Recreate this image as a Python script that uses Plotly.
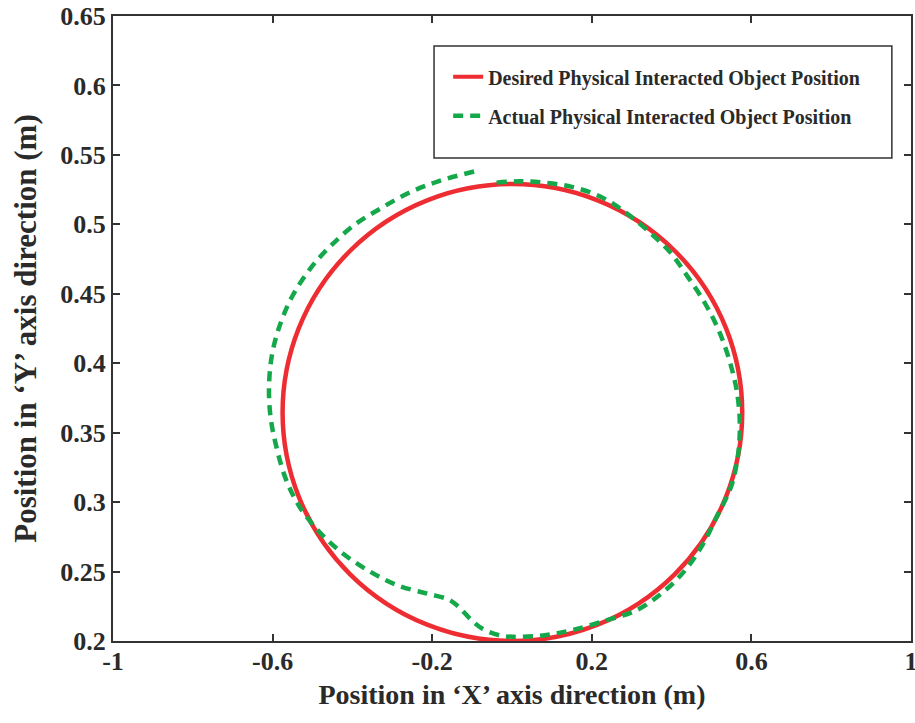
import plotly.graph_objects as go

# Desired trajectory: circle bounds (data units)
desired_x_bounds = [-0.575, 0.577]
desired_y_bounds = [0.200, 0.529]

# Actual trajectory
actual_x = [-0.095, -0.185, -0.256, -0.326, -0.393, -0.456, -0.506, -0.551, -0.581, -0.601,
            -0.609, -0.605, -0.589, -0.566, -0.531, -0.481, -0.424, -0.356, -0.286, -0.211,
            -0.160, -0.135, -0.105, -0.075, -0.030, 0.003, 0.078, 0.153, 0.238, 0.311,
            0.378, 0.434, 0.479, 0.514, 0.549, 0.566, 0.571, 0.564, 0.546, 0.519,
            0.484, 0.441, 0.396, 0.338, 0.278, 0.221, 0.150, 0.080, 0.020, -0.040]
actual_y = [0.538, 0.531, 0.523, 0.512, 0.500, 0.484, 0.468, 0.448, 0.428, 0.407,
            0.383, 0.361, 0.338, 0.316, 0.296, 0.278, 0.263, 0.250, 0.240, 0.234,
            0.230, 0.225, 0.216, 0.209, 0.204, 0.203, 0.204, 0.208, 0.215, 0.222,
            0.235, 0.251, 0.270, 0.290, 0.311, 0.333, 0.356, 0.379, 0.401, 0.423,
            0.443, 0.462, 0.480, 0.496, 0.510, 0.520, 0.527, 0.530, 0.531, 0.530]

x_ticks = [-1, -0.6, -0.2, 0.2, 0.6, 1]
x_ticklabels = ["-1", "-0.6", "-0.2", "0.2", "0.6", "1"]
y_ticks = [0.2, 0.25, 0.3, 0.35, 0.4, 0.45, 0.5, 0.55, 0.6, 0.65]
y_ticklabels = ["0.2", "0.25", "0.3", "0.35", "0.4", "0.45", "0.5", "0.55", "0.6", "0.65"]

legend_names = ["Desired Physical Interacted Object Position",
                "Actual Physical Interacted Object Position"]

RED = "#EE2D33"
GREEN = "#14A84B"
AX = "#333333"
TXT = "#2a2a2a"
FONT = "Liberation Serif"

fig = go.Figure()

# legend entry for desired (circle drawn as a shape through axis scales)
fig.add_trace(go.Scatter(x=[None], y=[None], mode="lines", name=legend_names[0],
                         line=dict(color=RED, width=4), legendgroup="a"))
fig.add_trace(go.Scatter(x=actual_x, y=actual_y, mode="lines", name=legend_names[1],
                         line=dict(color=GREEN, width=4.5, dash="10px,7px"),
                         line_shape="spline", legendgroup="b"))

fig.add_shape(type="circle", xref="x", yref="y",
              x0=desired_x_bounds[0], x1=desired_x_bounds[1],
              y0=desired_y_bounds[0], y1=desired_y_bounds[1],
              line=dict(color=RED, width=4.5), layer="below")

# legend box
fig.add_shape(type="rect", xref="paper", yref="paper",
              x0=0.4023, x1=0.976, y0=0.773, y1=0.952,
              line=dict(color=AX, width=1.5), fillcolor="rgba(0,0,0,0)")

axis_common = dict(showline=True, linewidth=2, linecolor=AX, mirror="ticks",
                   ticks="inside", ticklen=7, tickwidth=2, tickcolor=AX,
                   showgrid=False, zeroline=False, automargin=False,
                   ticklabeloverflow="allow",
                   tickfont=dict(family=FONT, size=26, color=TXT, weight="bold"))

fig.update_layout(
    width=915, height=723,
    margin=dict(l=113, r=4, t=16, b=82),
    paper_bgcolor="white", plot_bgcolor="white",
    showlegend=True,
    legend=dict(x=0.42, y=0.934, xanchor="left", yanchor="top",
                bgcolor="rgba(0,0,0,0)", borderwidth=0,
                font=dict(family=FONT, size=20, color=TXT, weight="bold"),
                traceorder="grouped", tracegroupgap=10),
    xaxis=dict(range=[-1, 1], tickvals=x_ticks, ticktext=x_ticklabels,
               ticklabelstandoff=-4,
               title=dict(text="Position in ‘X’ axis direction (m)",
                          font=dict(family=FONT, size=28, color=TXT, weight="bold"), standoff=9),
               **axis_common),
    yaxis=dict(range=[0.2, 0.65], tickvals=y_ticks, ticktext=y_ticklabels,
               title=dict(text="Position in ‘Y’ axis direction (m)",
                          font=dict(family=FONT, size=31, color=TXT, weight="bold"), standoff=14),
               **axis_common),
)

fig.write_html("out.html", config={"displayModeBar": False},
               post_script="document.body.style.margin='0px';document.body.style.overflow='hidden';")
